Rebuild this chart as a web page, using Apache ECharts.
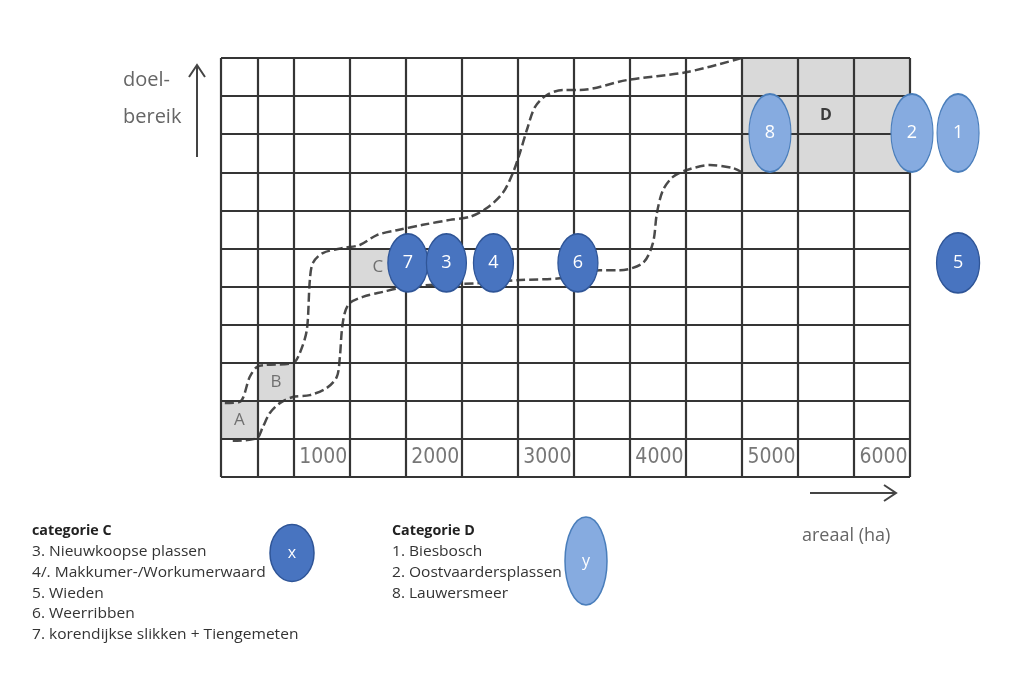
<!DOCTYPE html>
<html>
<head>
<meta charset="utf-8">
<script src="https://cdn.jsdelivr.net/npm/echarts@6/dist/echarts.min.js"></script>
<style>
html,body{margin:0;padding:0;background:#fff;}
#chart{width:1022px;height:687px;}
</style>
</head>
<body>
<div id="chart"></div>
<script>
// ---- data ----
const xGridLines = [-150, 180, 500, 1000, 1500, 2000, 2500, 3000, 3500, 4000, 4500, 5000, 5500, 6000];
const yGridLines = [-1, 0, 1, 2, 3, 4, 5, 6, 7, 8, 9, 10];
const tickValues = [1000, 2000, 3000, 4000, 5000, 6000];
const tickLabels = ['1000', '2000', '3000', '4000', '5000', '6000'];

const upperX = [-116, 18, 107, 170, 241, 491, 554, 616, 643, 670, 759, 937, 1089, 1241, 1420, 1652, 1893, 2071, 2223, 2366, 2455, 2518, 2580, 2652, 2759, 2902, 3054, 3473, 4009, 4500];
const upperY = [0.94, 0.97, 1.63, 1.89, 1.94, 1.99, 2.26, 2.86, 4.17, 4.62, 4.88, 5.01, 5.09, 5.35, 5.48, 5.62, 5.75, 5.83, 6.06, 6.46, 6.98, 7.51, 8.11, 8.71, 9.03, 9.16, 9.16, 9.42, 9.63, 10];
const lowerX = [-45, 170, 223, 286, 375, 491, 643, 795, 884, 911, 929, 955, 1000, 1116, 1295, 1446, 1714, 2161, 2518, 2875, 3232, 3411, 3616, 3705, 3741, 3795, 3884, 4009, 4214, 4420, 4500];
const lowerY = [-0.05, 0.02, 0.31, 0.68, 0.94, 1.10, 1.15, 1.34, 1.63, 2.15, 2.86, 3.31, 3.57, 3.73, 3.86, 3.96, 4.04, 4.09, 4.17, 4.22, 4.43, 4.43, 4.62, 5.14, 5.93, 6.53, 6.88, 7.06, 7.19, 7.11, 7.0];

const zoneNames = ['A', 'B', 'C', 'D'];
const zoneX0 = [-150, 180, 1000, 4500];
const zoneX1 = [180, 500, 1500, 6000];
const zoneY0 = [0, 1, 4, 7];
const zoneY1 = [1, 2, 5, 10];

const catCLabels = ['7', '3', '4', '6', '5'];
const catCX = [1518, 1862, 2282, 3036, 6429];
const catCY = [4.62, 4.62, 4.62, 4.62, 4.62];
const catDLabels = ['8', '2', '1'];
const catDX = [4750, 6018, 6429];
const catDY = [8.03, 8.03, 8.03];

const legendCTitle = 'categorie C';
const legendCItems = ['3. Nieuwkoopse plassen', '4/. Makkumer-/Workumerwaard', '5. Wieden', '6. Weerribben', '7. korendijkse slikken + Tiengemeten'];
const legendDTitle = 'Categorie D';
const legendDItems = ['1. Biesbosch', '2. Oostvaardersplassen', '8. Lauwersmeer'];

// ---- chart ----
const chart = echarts.init(document.getElementById('chart'));
const textFont = '"Open Sans", "Liberation Sans", sans-serif';
const gridColor = '#353535';

const graphics = [];
// y axis label + arrow
graphics.push({type:'text', left:123, top:70, style:{text:'doel-', font:'20px ' + textFont, fill:'#666'}});
graphics.push({type:'text', left:123, top:107, style:{text:'bereik', font:'20px ' + textFont, fill:'#666'}});
graphics.push({type:'line', shape:{x1:197, y1:157, x2:197, y2:66}, style:{stroke:'#444', lineWidth:2}});
graphics.push({type:'polyline', shape:{points:[[189,77],[197,65],[205,77]]}, style:{stroke:'#444', lineWidth:2, fill:null}});
// x axis label + arrow
graphics.push({type:'line', shape:{x1:810, y1:493, x2:895, y2:493}, style:{stroke:'#444', lineWidth:2}});
graphics.push({type:'polyline', shape:{points:[[884,485],[896,493],[884,501]]}, style:{stroke:'#444', lineWidth:2, fill:null}});
graphics.push({type:'text', x:802, y:536, style:{text:'areaal (ha)', font:'18px ' + textFont, fill:'#666', verticalAlign:'middle'}});
// legend blocks
const legendText = (t, x, y, bold) => ({
  type:'text', x:x, y:y, scaleX: bold ? 1.02 : 1.11,
  style:{text:t, font:(bold ? 'bold ' : '') + '14px ' + textFont, fill: bold ? '#222' : '#333', verticalAlign:'middle'}
});
graphics.push(legendText(legendCTitle, 32, 531, true));
legendCItems.forEach((t, i) => graphics.push(legendText(t, 32, 552 + i * 20.8, false)));
graphics.push(legendText(legendDTitle, 392, 531, true));
legendDItems.forEach((t, i) => graphics.push(legendText(t, 392, 552 + i * 20.8, false)));
// legend ellipses
graphics.push({type:'ellipse', shape:{cx:292, cy:553, rx:22, ry:28.5}, style:{fill:'#4874c0', stroke:'#2f5597', lineWidth:1.5}});
graphics.push({type:'text', x:292, y:553, style:{text:'x', font:'16px ' + textFont, fill:'#fff', align:'center', verticalAlign:'middle'}});
graphics.push({type:'ellipse', shape:{cx:586, cy:561, rx:21, ry:44}, style:{fill:'#86abe0', stroke:'#4a7ebb', lineWidth:1.5}});
graphics.push({type:'text', x:586, y:561, style:{text:'y', font:'16px ' + textFont, fill:'#fff', align:'center', verticalAlign:'middle'}});

const option = {
  animation: false,
  backgroundColor: '#fff',
  grid: {left: 221, right: 112, top: 58, bottom: 210, containLabel: false},
  xAxis: {type:'value', min:-150, max:6000, axisLine:{show:false}, axisTick:{show:false}, axisLabel:{show:false}, splitLine:{show:false}},
  yAxis: {type:'value', min:-1, max:10, interval:1, axisLine:{show:false}, axisTick:{show:false}, axisLabel:{show:false}, splitLine:{show:false}},
  graphic: graphics,
  series: [
    {
      name:'zones', type:'line', data:[], z:1, silent:true,
      markArea: {
        silent:true,
        itemStyle:{color:'#d9d9d9'},
        label:{show:true, position:'inside', color:'#707070', fontSize:17, fontFamily:textFont},
        data: zoneNames.map((n, i) => [
          {name:n, xAxis:zoneX0[i], yAxis:zoneY0[i], label: n === 'D' ? {color:'#3a3a3a', fontWeight:'bold', fontSize:16} : {}},
          {xAxis:zoneX1[i], yAxis:zoneY1[i]}
        ])
      }
    },
    {
      name:'grid', type:'line', data:[], z:2, silent:true,
      markLine: {
        silent:true, symbol:['none','none'], animation:false,
        label:{show:false},
        lineStyle:{color:gridColor, width:2.2, type:'solid'},
        emphasis:{disabled:true},
        data: xGridLines.map(v => ({xAxis:v})).concat(yGridLines.map(v => ({yAxis:v})))
      }
    },
    {
      name:'ticks', type:'scatter', z:3, silent:true, symbolSize:1, itemStyle:{color:'rgba(0,0,0,0)'},
      data: tickValues.map((v, i) => ({value:[v, -0.5], name:tickLabels[i]})),
      label:{show:true, position:'left', distance:2, formatter:p => p.name, color:'#555', fontSize:21, fontFamily:'"Liberation Sans Narrow", "DejaVu Sans Condensed", sans-serif'}
    },
    {
      name:'upper', type:'line', z:4, silent:true, showSymbol:false, smooth:0.3,
      data: upperX.map((x, i) => [x, upperY[i]]),
      lineStyle:{color:'#4a4a4a', width:2.5, type:[9,4]}
    },
    {
      name:'lower', type:'line', z:4, silent:true, showSymbol:false, smooth:0.3,
      data: lowerX.map((x, i) => [x, lowerY[i]]),
      lineStyle:{color:'#4a4a4a', width:2.5, type:[9,4]}
    },
    {
      name:'categorie C', type:'scatter', z:5, silent:true, clip:false,
      symbol:'circle', symbolSize:[40, 58],
      itemStyle:{color:'#4874c0', borderColor:'#2f5597', borderWidth:1.5, opacity:1},
      data: catCX.map((x, i) => ({value:[x, catCY[i]], name:catCLabels[i], symbolSize: catCLabels[i] === '5' ? [43, 60] : [40, 58]})),
      label:{show:true, position:'inside', formatter:p => p.name, color:'#fff', fontSize:18, fontFamily:textFont}
    },
    {
      name:'categorie D', type:'scatter', z:5, silent:true, clip:false,
      symbol:'circle', symbolSize:[42, 78],
      itemStyle:{color:'#86abe0', borderColor:'#4a7ebb', borderWidth:1.5, opacity:1},
      data: catDX.map((x, i) => ({value:[x, catDY[i]], name:catDLabels[i]})),
      label:{show:true, position:'inside', formatter:p => p.name, color:'#fff', fontSize:18, fontFamily:textFont}
    }
  ]
};
chart.setOption(option);
</script>
</body>
</html>
